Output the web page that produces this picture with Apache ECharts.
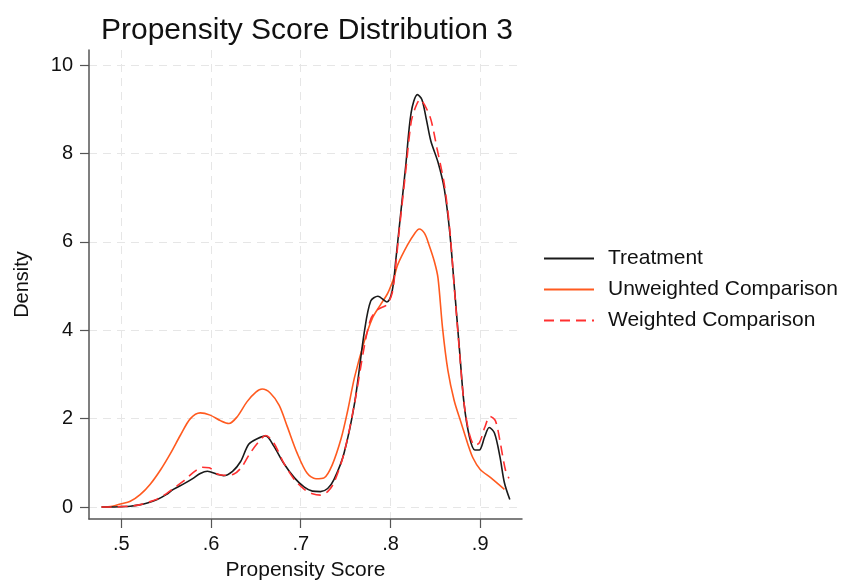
<!DOCTYPE html>
<html>
<head>
<meta charset="utf-8">
<script src="https://cdn.jsdelivr.net/npm/echarts@6/dist/echarts.min.js"></script>
<style>
  html, body { margin: 0; padding: 0; background: #fff; }
  #chart { width: 843px; height: 586px; }
</style>
</head>
<body>
<div id="chart"></div>
<script>
// Kernel density estimates of the propensity score, [score, density]
var treatment = [
  [0.478,0.00],[0.49,0.00],[0.50,0.01],[0.51,0.02],[0.52,0.05],[0.53,0.10],[0.54,0.17],
  [0.55,0.28],[0.558,0.40],[0.57,0.53],[0.58,0.65],[0.588,0.76],[0.596,0.81],[0.607,0.74],
  [0.614,0.71],[0.624,0.81],[0.633,1.03],[0.642,1.42],[0.652,1.55],[0.661,1.61],[0.670,1.38],
  [0.681,0.99],[0.693,0.66],[0.704,0.45],[0.713,0.36],[0.722,0.35],[0.730,0.42],[0.737,0.62],
  [0.748,1.20],[0.760,2.35],[0.771,3.98],[0.778,4.66],[0.786,4.77],[0.796,4.64],[0.802,4.90],
  [0.806,5.60],[0.810,6.37],[0.817,7.72],[0.823,8.92],[0.830,9.33],[0.835,9.22],[0.840,8.77],
  [0.845,8.28],[0.853,7.80],[0.860,7.20],[0.866,6.23],[0.871,5.03],[0.877,3.54],[0.882,2.34],
  [0.888,1.59],[0.894,1.29],[0.899,1.29],[0.905,1.59],[0.910,1.80],[0.916,1.67],[0.922,1.14],
  [0.927,0.55],[0.933,0.17]
];

var unweighted = [
  [0.478,0.00],[0.49,0.02],[0.499,0.07],[0.510,0.13],[0.521,0.28],[0.532,0.51],[0.544,0.85],
  [0.555,1.22],[0.566,1.63],[0.577,2.00],[0.588,2.13],[0.599,2.08],[0.611,1.95],[0.620,1.89],
  [0.629,2.04],[0.640,2.38],[0.650,2.60],[0.657,2.67],[0.666,2.58],[0.676,2.30],[0.685,1.82],
  [0.696,1.22],[0.707,0.77],[0.717,0.64],[0.726,0.66],[0.735,0.95],[0.745,1.55],[0.752,2.15],
  [0.760,2.94],[0.771,3.76],[0.780,4.28],[0.789,4.58],[0.797,4.84],[0.804,5.20],[0.808,5.48],
  [0.819,5.93],[0.827,6.19],[0.832,6.29],[0.838,6.19],[0.843,5.93],[0.849,5.55],[0.853,5.18],
  [0.858,4.06],[0.864,3.09],[0.871,2.41],[0.879,1.89],[0.886,1.44],[0.892,1.11],[0.900,0.85],
  [0.912,0.66],[0.927,0.40]
];

var weighted = [
  [0.478,0.00],[0.49,0.00],[0.50,0.01],[0.51,0.02],[0.52,0.05],[0.53,0.11],[0.54,0.18],
  [0.55,0.30],[0.56,0.45],[0.57,0.60],[0.58,0.78],[0.59,0.90],[0.598,0.89],[0.607,0.75],
  [0.616,0.72],[0.625,0.74],[0.634,0.90],[0.643,1.20],[0.652,1.45],[0.661,1.62],[0.670,1.45],
  [0.681,1.00],[0.693,0.62],[0.704,0.40],[0.713,0.30],[0.722,0.27],[0.730,0.35],[0.737,0.55],
  [0.748,1.20],[0.760,2.35],[0.771,3.65],[0.778,4.25],[0.786,4.47],[0.796,4.58],[0.802,4.85],
  [0.806,5.50],[0.810,6.30],[0.817,7.60],[0.823,8.70],[0.828,9.05],[0.833,9.22],[0.838,9.10],
  [0.845,8.77],[0.852,8.10],[0.860,7.30],[0.866,6.30],[0.871,5.00],[0.877,3.50],[0.882,2.35],
  [0.888,1.65],[0.894,1.40],[0.899,1.45],[0.905,1.80],[0.911,2.05],[0.917,1.95],[0.922,1.50],
  [0.928,0.85],[0.932,0.65]
];

var xTicks = [0.5, 0.6, 0.7, 0.8, 0.9];
var yTicks = [0, 2, 4, 6, 8, 10];
var seriesNames = ['Treatment', 'Unweighted Comparison', 'Weighted Comparison'];

var FONT = 'Liberation Sans';
var axisColor = '#555555';
var gridLine = { show: true, lineStyle: { color: '#e6e6e6', width: 1, type: [8, 6] } };

var chart = echarts.init(document.getElementById('chart'), null, { renderer: 'canvas' });

chart.setOption({
  animation: false,
  backgroundColor: '#ffffff',
  title: {
    text: 'Propensity Score Distribution 3',
    left: 96, top: 11,
    textStyle: { fontFamily: FONT, fontSize: 30, fontWeight: 'normal', color: '#111' }
  },
  legend: {
    orient: 'vertical',
    left: 538, top: 243,
    itemWidth: 50, itemHeight: 12, itemGap: 10,
    data: seriesNames,
    itemStyle: { opacity: 0 },
    textStyle: { fontFamily: FONT, fontSize: 21, color: '#111', padding: [0, 0, 0, 9] }
  },
  grid: { left: 89, right: 321, top: 50, bottom: 63, containLabel: false },
  xAxis: {
    type: 'value', min: 0.464, max: 0.9466,
    name: 'Propensity Score', nameLocation: 'middle', nameGap: 41,
    nameTextStyle: { fontFamily: FONT, fontSize: 21, color: '#111' },
    axisLine: { show: true, onZero: false, lineStyle: { color: axisColor, width: 1.5 } },
    axisTick: { show: true, length: 9, customValues: xTicks, lineStyle: { color: axisColor, width: 1.2 } },
    axisLabel: {
      customValues: xTicks, margin: 15,
      fontFamily: FONT, fontSize: 20, color: '#111',
      formatter: function (v) { return v.toFixed(1).replace(/^0/, ''); }
    },
    splitLine: gridLine
  },
  yAxis: {
    type: 'value', min: -0.27, max: 10.34,
    name: 'Density', nameLocation: 'middle', nameGap: 57,
    nameTextStyle: { fontFamily: FONT, fontSize: 20, color: '#111' },
    axisLine: { show: true, lineStyle: { color: axisColor, width: 1.5 } },
    axisTick: { show: true, length: 9, customValues: yTicks, lineStyle: { color: axisColor, width: 1.2 } },
    axisLabel: {
      customValues: yTicks, margin: 16,
      fontFamily: FONT, fontSize: 20, color: '#111'
    },
    splitLine: gridLine
  },
  series: [
    {
      name: seriesNames[0], type: 'line', data: treatment, smooth: 0.3,
      symbol: 'none', color: '#1a1a1a', z: 3,
      lineStyle: { color: '#1a1a1a', width: 1.6 }
    },
    {
      name: seriesNames[1], type: 'line', data: unweighted, smooth: 0.3,
      symbol: 'none', color: '#ff5a1f', z: 2,
      lineStyle: { color: '#ff5a1f', width: 1.6 }
    },
    {
      name: seriesNames[2], type: 'line', data: weighted, smooth: 0.3,
      symbol: 'none', color: '#ff3030', z: 4,
      lineStyle: { color: '#ff3030', width: 1.6, type: [10, 6] }
    }
  ]
});
</script>
</body>
</html>
